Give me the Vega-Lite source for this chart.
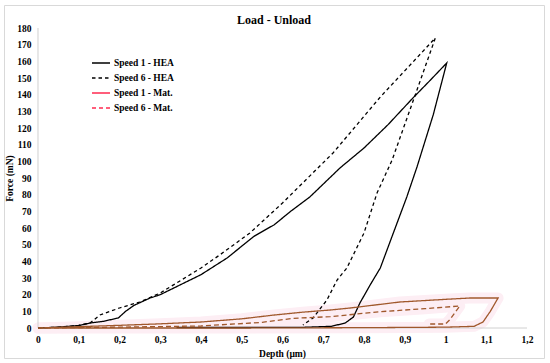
{
  "$schema": "https://vega.github.io/schema/vega-lite/v6.json",
  "autosize": {"type": "none"},
  "padding": {"left": 4, "top": 5, "right": 6, "bottom": 5},
  "width": 540,
  "height": 353,
  "background": "white",
  "config": {
    "view": {"stroke": "#d9d9d9", "strokeWidth": 1},
    "font": "Liberation Serif",
    "axis": {"labelOverlap": false},
    "axisY": {"labelOverlap": false},
    "axisQuantitative": {"labelOverlap": false}
  },
  "title": {
    "text": "Load - Unload",
    "font": "Liberation Serif",
    "fontSize": 12,
    "fontWeight": "bold",
    "anchor": "middle",
    "offset": -22,
    "color": "black"
  },
  "datasets": {
    "curves": [
      {"s": "Speed 1 - HEA", "i": 0, "x": 0, "y": 0},
      {"s": "Speed 1 - HEA", "i": 1, "x": 0.05, "y": 0.5},
      {"s": "Speed 1 - HEA", "i": 2, "x": 0.1, "y": 1.5},
      {"s": "Speed 1 - HEA", "i": 3, "x": 0.128, "y": 3},
      {"s": "Speed 1 - HEA", "i": 4, "x": 0.16, "y": 4},
      {"s": "Speed 1 - HEA", "i": 5, "x": 0.197, "y": 6},
      {"s": "Speed 1 - HEA", "i": 6, "x": 0.215, "y": 10},
      {"s": "Speed 1 - HEA", "i": 7, "x": 0.235, "y": 13.5},
      {"s": "Speed 1 - HEA", "i": 8, "x": 0.275, "y": 18},
      {"s": "Speed 1 - HEA", "i": 9, "x": 0.3, "y": 20},
      {"s": "Speed 1 - HEA", "i": 10, "x": 0.35, "y": 26},
      {"s": "Speed 1 - HEA", "i": 11, "x": 0.4, "y": 32},
      {"s": "Speed 1 - HEA", "i": 12, "x": 0.464, "y": 42},
      {"s": "Speed 1 - HEA", "i": 13, "x": 0.53, "y": 55},
      {"s": "Speed 1 - HEA", "i": 14, "x": 0.58, "y": 62},
      {"s": "Speed 1 - HEA", "i": 15, "x": 0.62, "y": 70},
      {"s": "Speed 1 - HEA", "i": 16, "x": 0.667, "y": 78.6},
      {"s": "Speed 1 - HEA", "i": 17, "x": 0.741, "y": 96},
      {"s": "Speed 1 - HEA", "i": 18, "x": 0.8, "y": 108},
      {"s": "Speed 1 - HEA", "i": 19, "x": 0.859, "y": 122},
      {"s": "Speed 1 - HEA", "i": 20, "x": 0.92, "y": 138},
      {"s": "Speed 1 - HEA", "i": 21, "x": 0.96, "y": 148},
      {"s": "Speed 1 - HEA", "i": 22, "x": 1.003, "y": 159},
      {"s": "Speed 1 - HEA", "i": 23, "x": 0.97, "y": 128},
      {"s": "Speed 1 - HEA", "i": 24, "x": 0.93, "y": 96.6},
      {"s": "Speed 1 - HEA", "i": 25, "x": 0.905, "y": 78.6},
      {"s": "Speed 1 - HEA", "i": 26, "x": 0.872, "y": 57},
      {"s": "Speed 1 - HEA", "i": 27, "x": 0.84, "y": 36},
      {"s": "Speed 1 - HEA", "i": 28, "x": 0.815, "y": 25.8},
      {"s": "Speed 1 - HEA", "i": 29, "x": 0.79, "y": 15},
      {"s": "Speed 1 - HEA", "i": 30, "x": 0.774, "y": 6.6},
      {"s": "Speed 1 - HEA", "i": 31, "x": 0.754, "y": 3},
      {"s": "Speed 1 - HEA", "i": 32, "x": 0.72, "y": 1},
      {"s": "Speed 1 - HEA", "i": 33, "x": 0.65, "y": 0.4},
      {"s": "Speed 1 - HEA", "i": 34, "x": 0.5, "y": 0.3},
      {"s": "Speed 1 - HEA", "i": 35, "x": 0.34, "y": 0.3},

      {"s": "Speed 6 - HEA", "i": 0, "x": 0, "y": 0},
      {"s": "Speed 6 - HEA", "i": 1, "x": 0.05, "y": 0.5},
      {"s": "Speed 6 - HEA", "i": 2, "x": 0.1, "y": 1.5},
      {"s": "Speed 6 - HEA", "i": 3, "x": 0.128, "y": 3},
      {"s": "Speed 6 - HEA", "i": 4, "x": 0.152, "y": 7.8},
      {"s": "Speed 6 - HEA", "i": 5, "x": 0.2, "y": 12},
      {"s": "Speed 6 - HEA", "i": 6, "x": 0.25, "y": 15.6},
      {"s": "Speed 6 - HEA", "i": 7, "x": 0.3, "y": 21},
      {"s": "Speed 6 - HEA", "i": 8, "x": 0.4, "y": 36},
      {"s": "Speed 6 - HEA", "i": 9, "x": 0.447, "y": 44},
      {"s": "Speed 6 - HEA", "i": 10, "x": 0.52, "y": 57},
      {"s": "Speed 6 - HEA", "i": 11, "x": 0.6, "y": 75},
      {"s": "Speed 6 - HEA", "i": 12, "x": 0.724, "y": 105},
      {"s": "Speed 6 - HEA", "i": 13, "x": 0.84, "y": 138.6},
      {"s": "Speed 6 - HEA", "i": 14, "x": 0.975, "y": 174},
      {"s": "Speed 6 - HEA", "i": 15, "x": 0.93, "y": 142.8},
      {"s": "Speed 6 - HEA", "i": 16, "x": 0.869, "y": 100.8},
      {"s": "Speed 6 - HEA", "i": 17, "x": 0.832, "y": 81},
      {"s": "Speed 6 - HEA", "i": 18, "x": 0.8, "y": 57},
      {"s": "Speed 6 - HEA", "i": 19, "x": 0.758, "y": 36},
      {"s": "Speed 6 - HEA", "i": 20, "x": 0.734, "y": 28.8},
      {"s": "Speed 6 - HEA", "i": 21, "x": 0.709, "y": 16.8},
      {"s": "Speed 6 - HEA", "i": 22, "x": 0.675, "y": 6},
      {"s": "Speed 6 - HEA", "i": 23, "x": 0.65, "y": 1.8},

      {"s": "Speed 1 - Mat.", "i": 0, "x": 0, "y": 0},
      {"s": "Speed 1 - Mat.", "i": 1, "x": 0.1, "y": 0.8},
      {"s": "Speed 1 - Mat.", "i": 2, "x": 0.2, "y": 1.6},
      {"s": "Speed 1 - Mat.", "i": 3, "x": 0.3, "y": 2.5},
      {"s": "Speed 1 - Mat.", "i": 4, "x": 0.4, "y": 3.6},
      {"s": "Speed 1 - Mat.", "i": 5, "x": 0.5, "y": 5.5},
      {"s": "Speed 1 - Mat.", "i": 6, "x": 0.58, "y": 7.8},
      {"s": "Speed 1 - Mat.", "i": 7, "x": 0.65, "y": 9.5},
      {"s": "Speed 1 - Mat.", "i": 8, "x": 0.717, "y": 10.8},
      {"s": "Speed 1 - Mat.", "i": 9, "x": 0.766, "y": 12},
      {"s": "Speed 1 - Mat.", "i": 10, "x": 0.888, "y": 15.6},
      {"s": "Speed 1 - Mat.", "i": 11, "x": 1.0, "y": 17.2},
      {"s": "Speed 1 - Mat.", "i": 12, "x": 1.06, "y": 18},
      {"s": "Speed 1 - Mat.", "i": 13, "x": 1.129, "y": 18},
      {"s": "Speed 1 - Mat.", "i": 14, "x": 1.11, "y": 10},
      {"s": "Speed 1 - Mat.", "i": 15, "x": 1.092, "y": 3.6},
      {"s": "Speed 1 - Mat.", "i": 16, "x": 1.07, "y": 1},
      {"s": "Speed 1 - Mat.", "i": 17, "x": 1.0, "y": 0.5},
      {"s": "Speed 1 - Mat.", "i": 18, "x": 0.8, "y": 0.2},
      {"s": "Speed 1 - Mat.", "i": 19, "x": 0.5, "y": 0},
      {"s": "Speed 1 - Mat.", "i": 20, "x": 0.2, "y": 0},
      {"s": "Speed 1 - Mat.", "i": 21, "x": 0.0, "y": 0},

      {"s": "Speed 6 - Mat.", "i": 0, "x": 0, "y": 0},
      {"s": "Speed 6 - Mat.", "i": 1, "x": 0.2, "y": 0.5},
      {"s": "Speed 6 - Mat.", "i": 2, "x": 0.4, "y": 1.2},
      {"s": "Speed 6 - Mat.", "i": 3, "x": 0.55, "y": 3.4},
      {"s": "Speed 6 - Mat.", "i": 4, "x": 0.626, "y": 5.8},
      {"s": "Speed 6 - Mat.", "i": 5, "x": 0.717, "y": 6.8},
      {"s": "Speed 6 - Mat.", "i": 6, "x": 0.758, "y": 7.8},
      {"s": "Speed 6 - Mat.", "i": 7, "x": 0.84, "y": 9.8},
      {"s": "Speed 6 - Mat.", "i": 8, "x": 0.95, "y": 11.6},
      {"s": "Speed 6 - Mat.", "i": 9, "x": 1.035, "y": 13.2},
      {"s": "Speed 6 - Mat.", "i": 10, "x": 1.01, "y": 4.8},
      {"s": "Speed 6 - Mat.", "i": 11, "x": 1.0, "y": 2.4},
      {"s": "Speed 6 - Mat.", "i": 12, "x": 0.96, "y": 2.4}
    ],
    "axes": [
      {"x": 0, "x2": 1.2, "y": 0, "y2": 0},
      {"x": 0, "x2": 0, "y": 0, "y2": 180}
    ]
  },
  "resolve": {"scale": {"color": "independent", "strokeDash": "independent"}},
  "layer": [
    {
      "data": {"name": "curves"},
      "transform": [{"filter": "indexof(datum.s, 'Mat.') >= 0"}],
      "mark": {"type": "line", "strokeWidth": 11, "color": "#fdeef4", "strokeCap": "round", "strokeJoin": "round"},
      "encoding": {
        "x": {
          "field": "x", "type": "quantitative",
          "scale": {"domain": [-0.0834, 1.2417], "nice": false, "zero": false},
          "axis": {
            "title": "Depth (µm)",
            "offset": -30,
            "domain": false,
            "ticks": false,
            "grid": false,
            "values": [0, 0.1, 0.2, 0.3, 0.4, 0.5, 0.6, 0.7, 0.8, 0.9, 1, 1.1, 1.2],
            "labelExpr": "replace(format(datum.value, '.1~f'), '.', ',')",
            "labelFont": "Liberation Serif",
            "labelFontSize": 9.5,
            "labelFontWeight": "bold",
            "labelColor": "black",
            "labelPadding": 6,
            "labelFlush": false,
            "labelOverlap": false,
            "titleFont": "Liberation Serif",
            "titleFontSize": 9.5,
            "titleFontWeight": "bold",
            "titleColor": "black",
            "titleX": 278,
            "titleY": 25,
            "titleBaseline": "middle"
          }
        },
        "y": {
          "field": "y", "type": "quantitative",
          "scale": {"domain": [-18, 193.8], "nice": false, "zero": false},
          "axis": {
            "title": "Force (mN)",
            "offset": -34,
            "domain": false,
            "ticks": false,
            "grid": false,
            "tickCount": 19,
            "values": [0, 10, 20, 30, 40, 50, 60, 70, 80, 90, 100, 110, 120, 130, 140, 150, 160, 170, 180],
            "labelExpr": "format(datum.value, 'd')",
            "labelFont": "Liberation Serif",
            "labelFontSize": 9.5,
            "labelFontWeight": "bold",
            "labelColor": "black",
            "labelPadding": 7,
            "labelFlush": false,
            "labelOverlap": false,
            "labelSeparation": 0,
            "labelBound": false,
            "titleFont": "Liberation Serif",
            "titleFontSize": 9.5,
            "titleFontWeight": "bold",
            "titleColor": "black",
            "titleX": -29,
            "titleY": 173,
            "titleAngle": -90,
            "titleBaseline": "middle"
          }
        },
        "detail": {"field": "s", "type": "nominal"},
        "order": {"field": "i", "type": "quantitative"}
      }
    },
    {
      "data": {"name": "axes"},
      "mark": {"type": "rule", "color": "#d0d0d0", "strokeWidth": 1},
      "encoding": {
        "x": {"field": "x", "type": "quantitative"},
        "x2": {"field": "x2"},
        "y": {"field": "y", "type": "quantitative"},
        "y2": {"field": "y2"}
      }
    },
    {
      "data": {"name": "curves"},
      "mark": {"type": "line", "strokeWidth": 1.3},
      "encoding": {
        "x": {"field": "x", "type": "quantitative"},
        "y": {"field": "y", "type": "quantitative"},
        "color": {
          "field": "s", "type": "nominal",
          "scale": {
            "domain": ["Speed 1 - HEA", "Speed 6 - HEA", "Speed 1 - Mat.", "Speed 6 - Mat."],
            "range": ["#000000", "#000000", "#a0582c", "#a0582c"]
          },
          "legend": null
        },
        "strokeDash": {
          "field": "s", "type": "nominal",
          "scale": {
            "domain": ["Speed 1 - HEA", "Speed 6 - HEA", "Speed 1 - Mat.", "Speed 6 - Mat."],
            "range": [[1, 0], [3.5, 3], [1, 0], [5, 3]]
          },
          "legend": null
        },
        "order": {"field": "i", "type": "quantitative"}
      }
    },
    {
      "data": {"name": "curves"},
      "transform": [{"filter": "datum.i < 0"}],
      "mark": {"type": "line", "strokeWidth": 1.5},
      "encoding": {
        "x": {"field": "x", "type": "quantitative"},
        "y": {"field": "y", "type": "quantitative"},
        "color": {
          "field": "s", "type": "nominal",
          "scale": {
            "domain": ["Speed 1 - HEA", "Speed 6 - HEA", "Speed 1 - Mat.", "Speed 6 - Mat."],
            "range": ["#000000", "#000000", "#ff2a50", "#ff2a50"]
          },
          "legend": {
            "title": null,
            "orient": "none",
            "legendX": 87,
            "legendY": 48,
            "symbolType": "stroke",
            "symbolSize": 324,
            "symbolStrokeWidth": 1.5,
            "labelFont": "Liberation Serif",
            "labelFontSize": 9.5,
            "labelFontWeight": "bold",
            "labelColor": "black",
            "labelOffset": 3,
            "rowPadding": -5
          }
        },
        "strokeDash": {
          "field": "s", "type": "nominal",
          "scale": {
            "domain": ["Speed 1 - HEA", "Speed 6 - HEA", "Speed 1 - Mat.", "Speed 6 - Mat."],
            "range": [[1, 0], [3.5, 3], [1, 0], [4, 3]]
          },
          "legend": {
            "title": null,
            "orient": "none",
            "legendX": 87,
            "legendY": 48,
            "symbolType": "stroke",
            "symbolSize": 324,
            "symbolStrokeWidth": 1.5,
            "labelFont": "Liberation Serif",
            "labelFontSize": 9.5,
            "labelFontWeight": "bold",
            "labelColor": "black",
            "labelOffset": 3,
            "rowPadding": -5
          }
        }
      }
    }
  ]
}
